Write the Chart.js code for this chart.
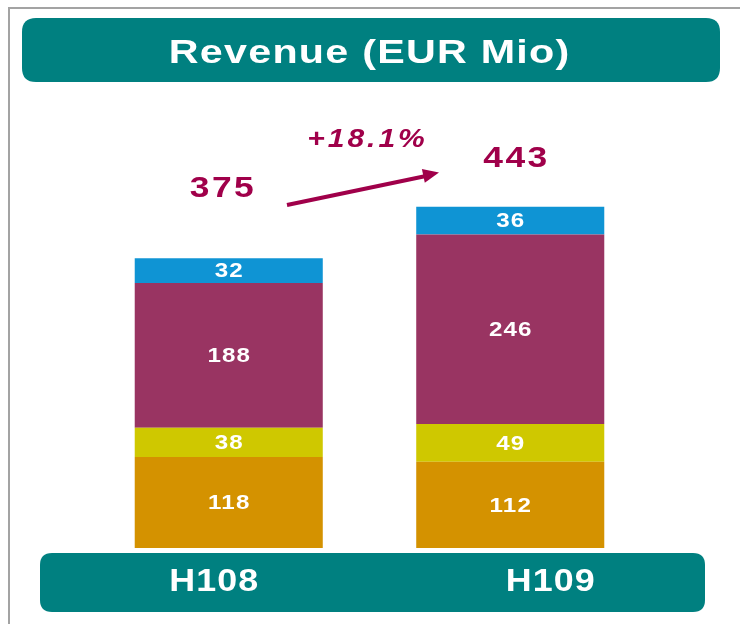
<!DOCTYPE html>
<html>
<head>
<meta charset="utf-8">
<script src="https://cdn.jsdelivr.net/npm/chart.js@4/dist/chart.umd.min.js"></script>
<style>
  html, body { margin: 0; padding: 0; background: #ffffff; }
  #wrap { position: relative; width: 740px; height: 624px; overflow: hidden; }
  #bl { position: absolute; left: 8px; top: 7px; width: 2px; height: 617px; background: #a3a3a3; }
  #bt { position: absolute; left: 8px; top: 7px; width: 732px; height: 2px; background: #a3a3a3; }
  canvas { position: absolute; left: 0; top: 0; }
</style>
</head>
<body>
<div id="wrap">
  <div id="bl"></div><div id="bt"></div>
  <canvas id="c" width="740" height="624"></canvas>
</div>
<script>
const title = "Revenue (EUR Mio)";
const categories = ["H108", "H109"];
const seriesA = [118, 112];   // orange (bottom)
const seriesB = [38, 49];     // yellow
const seriesC = [188, 246];   // purple
const seriesD = [32, 36];     // blue (top)
const totals = [375, 443];
const growthLabel = "+18.1%";

const colors = ["#d49200", "#cfc800", "#993462", "#0f94d4"];
const teal = "#008080";
const maroon = "#a0004a";

function roundRect(ctx, x, y, w, h, r) {
  ctx.beginPath();
  ctx.moveTo(x + r, y);
  ctx.lineTo(x + w - r, y);
  ctx.quadraticCurveTo(x + w, y, x + w, y + r);
  ctx.lineTo(x + w, y + h - r);
  ctx.quadraticCurveTo(x + w, y + h, x + w - r, y + h);
  ctx.lineTo(x + r, y + h);
  ctx.quadraticCurveTo(x, y + h, x, y + h - r);
  ctx.lineTo(x, y + r);
  ctx.quadraticCurveTo(x, y, x + r, y);
  ctx.closePath();
}

// wide text: horizontally stretched glyphs plus a little tracking
function wideText(ctx, text, x, y, font, sx, spacing) {
  ctx.save();
  ctx.font = font;
  ctx.letterSpacing = spacing + "px";
  ctx.translate(x + spacing * sx / 2, y);
  ctx.scale(sx, 1);
  ctx.fillText(text, 0, 0);
  ctx.restore();
}

const FONT = "'Liberation Sans', Arial, sans-serif";

const deco = {
  id: "deco",
  afterDraw(chart) {
    const ctx = chart.ctx;
    ctx.save();
    ctx.textAlign = "center";
    ctx.textBaseline = "middle";
    // title banner
    ctx.fillStyle = teal;
    roundRect(ctx, 22, 18, 698, 64, 14);
    ctx.fill();
    ctx.fillStyle = "#ffffff";
    wideText(ctx, title, 369, 54, "bold 33px " + FONT, 1.25, 1);

    // bottom banner
    ctx.fillStyle = teal;
    roundRect(ctx, 40, 553, 665, 59, 12);
    ctx.fill();
    ctx.fillStyle = "#ffffff";
    const xs = chart.scales.x;
    const offs = [-15, 40];
    categories.forEach((c, i) => {
      wideText(ctx, c, xs.getPixelForValue(i) + offs[i], 582, "bold 32px " + FONT, 1.12, 1);
    });

    // segment values
    chart.data.datasets.forEach((ds, di) => {
      const meta = chart.getDatasetMeta(di);
      meta.data.forEach((bar, i) => {
        const cy = (bar.y + bar.base) / 2;
        wideText(ctx, String(ds.data[i]), bar.x, cy + 1, "bold 21px " + FONT, 1.15, 1);
      });
    });

    // totals
    ctx.fillStyle = maroon;
    const totOff = [[-7, -70], [5, -48]];
    const topMeta = chart.getDatasetMeta(3);
    totals.forEach((t, i) => {
      const b = topMeta.data[i];
      wideText(ctx, String(t), b.x + totOff[i][0], b.y + totOff[i][1], "bold 30px " + FONT, 1.18, 2);
    });

    // growth label
    wideText(ctx, growthLabel, 366, 140, "italic bold 25px " + FONT, 1.2, 2.5);

    // arrow
    ctx.strokeStyle = maroon;
    ctx.lineWidth = 4;
    ctx.beginPath();
    ctx.moveTo(287, 205);
    ctx.lineTo(426, 176);
    ctx.stroke();
    const ang = Math.atan2(173 - 205, 438 - 287);
    ctx.beginPath();
    ctx.moveTo(439, 172.5);
    ctx.lineTo(439 - 16 * Math.cos(ang) + 7 * Math.sin(ang), 172.5 - 16 * Math.sin(ang) - 7 * Math.cos(ang));
    ctx.lineTo(439 - 16 * Math.cos(ang) - 7 * Math.sin(ang), 172.5 - 16 * Math.sin(ang) + 7 * Math.cos(ang));
    ctx.closePath();
    ctx.fill();
    ctx.restore();
  }
};

const yMax = 600;
new Chart(document.getElementById("c"), {
  type: "bar",
  data: {
    labels: categories,
    datasets: [
      { data: seriesA, backgroundColor: colors[0] },
      { data: seriesB, backgroundColor: colors[1] },
      { data: seriesC, backgroundColor: colors[2] },
      { data: seriesD, backgroundColor: colors[3] }
    ]
  },
  options: {
    responsive: false,
    animation: false,
    events: [],
    layout: { padding: { left: 88, right: 740 - 651, top: 548 - yMax * 0.7705, bottom: 624 - 548 } },
    datasets: { bar: { categoryPercentage: 1, barPercentage: 0.668, borderWidth: 0 } },
    plugins: { legend: { display: false }, tooltip: { enabled: false }, title: { display: false } },
    scales: {
      x: { stacked: true, display: false, grid: { display: false } },
      y: { stacked: true, display: false, min: 0, max: yMax, grid: { display: false } }
    }
  },
  plugins: [deco]
});
</script>
</body>
</html>
